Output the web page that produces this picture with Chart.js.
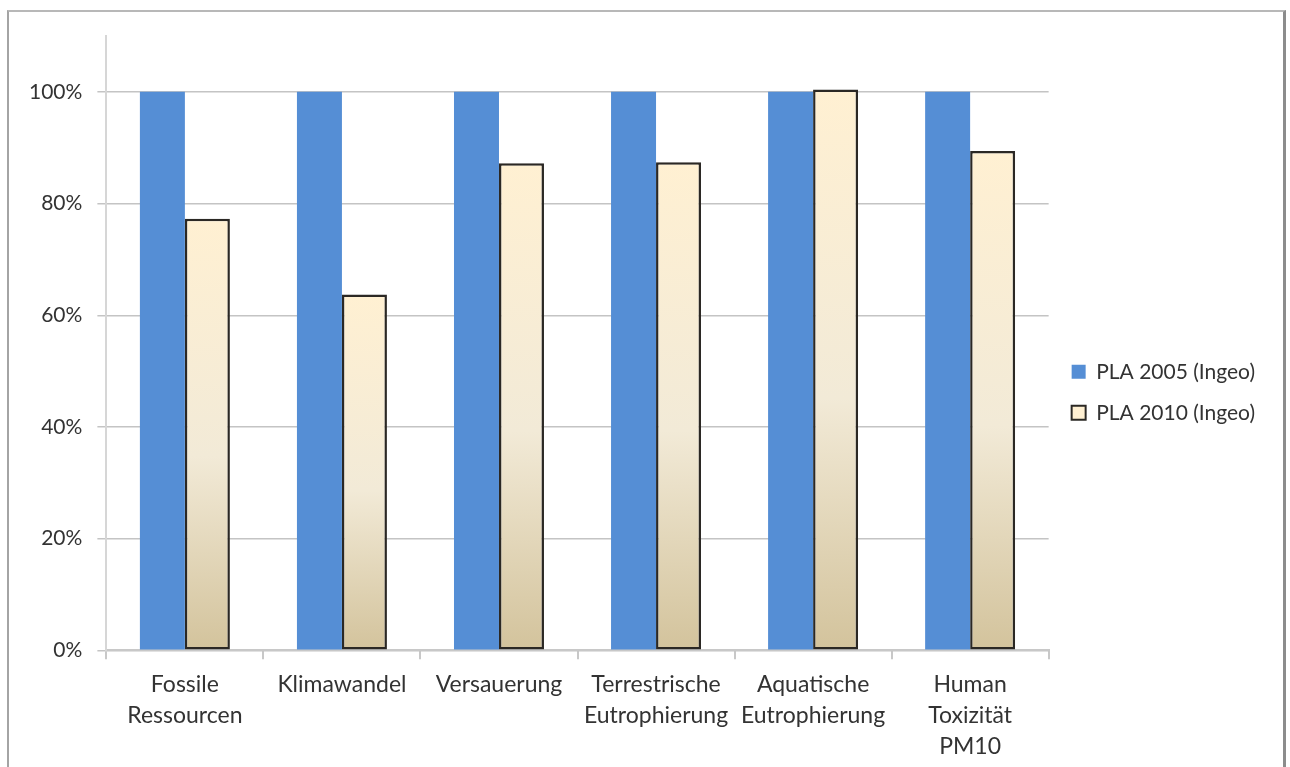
<!DOCTYPE html>
<html>
<head>
<meta charset="utf-8">
<script src="https://cdn.jsdelivr.net/npm/chart.js@4"></script>
<style>
  html, body { margin: 0; padding: 0; background: #fff; overflow: hidden; }
  #wrap { position: relative; width: 1290px; height: 767px; }
  #frame {
    position: absolute; left: 7px; top: 10px; width: 1274px; height: 800px;
    border-top: 2px solid #b8b8b8; border-left: 2px solid #a4a4a4; border-right: 3px solid #8c8c8c;
    pointer-events: none;
  }
</style>
</head>
<body>
<div id="wrap">
  <canvas id="chart" width="1290" height="767"></canvas>
  <div id="frame"></div>
</div>
<script>
// Kategorien und Werte
const categories = [
    ['Fossile', 'Ressourcen'],
    'Klimawandel',
    'Versauerung',
    ['Terrestrische', 'Eutrophierung'],
    ['Aquatische', 'Eutrophierung'],
    ['Human', 'Toxizität', 'PM10']
];
const pla2005 = [100, 100, 100, 100, 100, 100];
const pla2010 = [77.3, 63.7, 87.2, 87.4, 100.4, 89.4];
const yTicks = [0, 20, 40, 60, 80, 100];

const FONT = 'Lato';
const TEXT = '#333333';

// Verlauf für jeden hellen Balken, von oben (creme) nach unten (beige)
function beigeFill(context) {
    const chart = context.chart;
    const area = chart.chartArea;
    if (!area || context.type !== 'data') return '#FFF0D2';
    const y = chart.scales.y;
    const top = y.getPixelForValue(context.raw);
    const bottom = y.getPixelForValue(0);
    const g = chart.ctx.createLinearGradient(0, top, 0, bottom);
    g.addColorStop(0, '#FFF0D2');
    g.addColorStop(0.55, '#F2EAD7');
    g.addColorStop(1, '#D3C39C');
    return g;
}

// Legende etwas nach oben und rechts schieben
const legendShift = {
    id: 'legendShift',
    beforeDraw(chart) {
        chart.legend.top -= 11.5;
        chart.legend.bottom -= 11.5;
        chart.legend.left += 3;
    }
};

new Chart(document.getElementById('chart').getContext('2d'), {
    type: 'bar',
    data: {
        labels: categories,
        datasets: [{
            label: 'PLA 2005 (Ingeo)',
            data: pla2005,
            backgroundColor: '#558ED5',
            borderWidth: 0,
            categoryPercentage: 0.573,
            barPercentage: 1
        }, {
            label: 'PLA 2010 (Ingeo)',
            data: pla2010,
            backgroundColor: beigeFill,
            borderColor: '#2b2824',
            borderWidth: 2.5,
            borderSkipped: false,
            categoryPercentage: 0.573,
            barPercentage: 1
        }]
    },
    plugins: [legendShift],
    options: {
        responsive: false,
        animation: false,
        layout: { padding: { left: 14, top: 36, right: 28, bottom: -4.5 } },
        plugins: {
            tooltip: { enabled: false },
            legend: {
                position: 'right',
                labels: {
                    font: { family: FONT, size: 21 },
                    color: TEXT,
                    boxWidth: 14,
                    boxHeight: 14,
                    padding: 20,
                    generateLabels(chart) {
                        const items = Chart.defaults.plugins.legend.labels.generateLabels(chart);
                        items[0].fillStyle = '#558ED5';
                        items[0].lineWidth = 0;
                        items[1].fillStyle = '#FFF0D2';
                        items[1].strokeStyle = '#2b2824';
                        items[1].lineWidth = 2;
                        return items;
                    }
                }
            }
        },
        scales: {
            x: {
                offset: true,
                grid: {
                    offset: true,
                    drawOnChartArea: false,
                    tickLength: 9,
                    color: '#c8c8c8',
                    lineWidth: 2
                },
                border: { color: '#c8c8c8', width: 2 },
                ticks: {
                    font: { family: FONT, size: 23, lineHeight: 1.35 },
                    color: TEXT,
                    maxRotation: 0,
                    autoSkip: false,
                    padding: 9.5
                }
            },
            y: {
                min: 0,
                max: 110,
                afterBuildTicks(scale) {
                    scale.ticks = yTicks.map(v => ({ value: v }));
                },
                grid: {
                    tickLength: 9,
                    color: '#c4c4c4',
                    lineWidth: 1.5
                },
                border: { color: '#d6d6d6', width: 2 },
                ticks: {
                    font: { family: FONT, size: 21 },
                    color: TEXT,
                    padding: 15,
                    callback: v => v + '%'
                }
            }
        }
    }
});
</script>
</body>
</html>
